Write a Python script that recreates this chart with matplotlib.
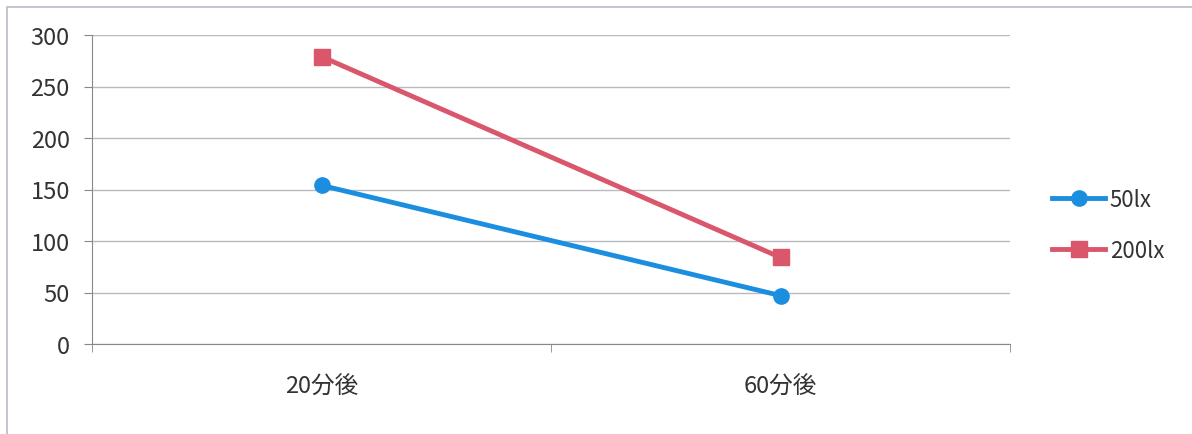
import matplotlib
matplotlib.use("Agg")
import matplotlib.pyplot as plt
from matplotlib.patches import Rectangle

plt.rcParams['font.family'] = ['Noto Sans CJK JP', 'DejaVu Sans']

categories = ['20分後', '60分後']
series_names = ['50lx', '200lx']
values_50lx = [154, 47]
values_200lx = [279, 84]
y_ticks = [0, 50, 100, 150, 200, 250, 300]

blue = '#1b8ee0'
red = '#d9566b'
grid_col = '#b8bac2'

fig = plt.figure(figsize=(11.92, 4.35), dpi=100)
ax = fig.add_axes([92 / 1192, 1 - 345 / 435, (1010 - 92) / 1192, (345 - 36) / 435])

x = list(range(len(categories)))
ax.plot(x, values_50lx, color=blue, lw=3.5, marker='o', ms=11, label=series_names[0])
ax.plot(x, values_200lx, color=red, lw=3.5, marker='s', ms=11, label=series_names[1])

ax.set_xlim(-0.5, 1.5)
ax.set_ylim(0, 300)
ax.set_yticks(y_ticks)
ax.yaxis.grid(True, color=grid_col, lw=1)
ax.set_axisbelow(True)

ax.set_xticks(x)
ax.set_xticklabels(categories, fontsize=17, color='#333333')
ax.tick_params(axis='x', which='major', length=0, pad=22)
ax.set_xticks([-0.5, 0.5, 1.5], minor=True)
ax.tick_params(axis='x', which='minor', length=6, color='#888888', direction='out')
ax.tick_params(axis='y', length=6, color='#888888', labelsize=17, labelcolor='#333333', pad=10)

for s in ['top', 'right']:
    ax.spines[s].set_visible(False)
ax.spines['left'].set_color('#888888')
ax.spines['bottom'].set_color('#888888')

leg = fig.legend(loc='center left', bbox_to_anchor=(1052 / 1192, 1 - 226 / 435),
                 frameon=False, fontsize=16, handlelength=2.4, labelspacing=1.25,
                 handletextpad=0.2, borderaxespad=0, borderpad=0)
for t in leg.get_texts():
    t.set_color('#333333')

# 外枠（スキャン画像の枠線）
fig.patches.append(Rectangle((7 / 1192, -0.1), 1.2, 1 - 8 / 435 + 0.1,
                             transform=fig.transFigure, fill=False,
                             edgecolor='#b8bcc8', lw=1.2))

fig.savefig('out.png', dpi=100, facecolor='white')
